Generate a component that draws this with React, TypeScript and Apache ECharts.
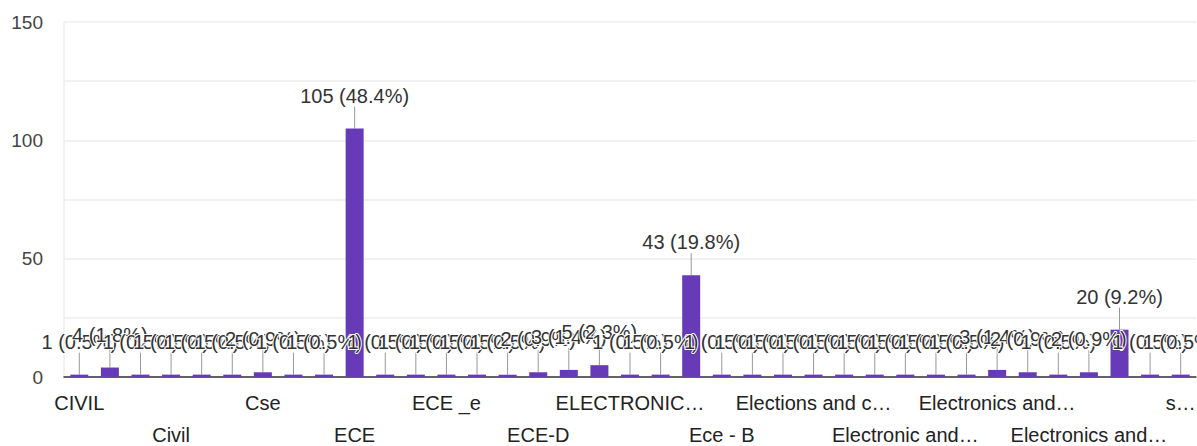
import React, { useEffect, useRef } from "react";
import * as echarts from "echarts";

const categories: string[] = [
  "CIVIL",
  "CSE",
  "Chemical",
  "Civil",
  "Civil Engineering",
  "Computer Science",
  "Cse",
  "E.C.E",
  "EC",
  "ECE",
  "ECE A",
  "ECE B",
  "ECE _e",
  "ECE c",
  "ECE-A",
  "ECE-D",
  "ECE-E",
  "ECEA",
  "ELECTRONICS AND COMMUNICATION",
  "ELECTRONICS AND COMMUNICATION ENGINEERING",
  "Ece",
  "Ece - B",
  "Ece-A",
  "Ece-C",
  "Elections and communication",
  "Electrical",
  "Electrical and electronics",
  "Electronic and communication",
  "Electronic and communication engineering",
  "Electronics",
  "Electronics and Communication",
  "Electronics and Communication Engineering",
  "Electronics and communication",
  "Electronics and communication engineering",
  "Electronics and communications",
  "Engineering",
  "student",
];

const counts: number[] = [
  1, 4, 1, 1, 1, 1, 2, 1, 1, 105,
  1, 1, 1, 1, 1, 2, 3, 5, 1, 1,
  43, 1, 1, 1, 1, 1, 1, 1, 1, 1,
  3, 2, 1, 2, 20, 1, 1,
];

const yTickLabels: number[] = [0, 50, 100, 150];

const FONT = '"Liberation Sans", Arial, sans-serif';
const LABEL_FONT = '20px "Liberation Sans", Arial, sans-serif';

let measureCtx: CanvasRenderingContext2D | null = null;
function textWidth(s: string): number {
  if (!measureCtx) {
    measureCtx = document.createElement("canvas").getContext("2d");
  }
  if (!measureCtx) return s.length * 10;
  measureCtx.font = LABEL_FONT;
  return measureCtx.measureText(s).width;
}

function fitText(text: string, width: number): string {
  if (textWidth(text) <= width) return text;
  let n = text.length;
  while (n > 0 && textWidth(text.slice(0, n) + "…") > width) n--;
  return text.slice(0, n).replace(/\s+$/, "") + "…";
}

export default function App() {
  const ref = useRef<HTMLDivElement>(null);

  useEffect(() => {
    if (!ref.current) return;
    const chart = echarts.init(ref.current, undefined, { renderer: "svg" });
    const total = counts.reduce((a, b) => a + b, 0);
    const lastIdx = categories.length - 1;

    const labelBase = {
      fontFamily: FONT,
      fontSize: 20,
      lineHeight: 32,
      color: "#222222",
      hideOverlap: false,
      formatter: (value: string, index: number) =>
        fitText(value, index === lastIdx ? 32 : 158),
    };

    chart.setOption({
      animation: false,
      backgroundColor: "#ffffff",
      grid: {
        left: 64,
        right: 1,
        top: 22,
        bottom: 69,
        containLabel: false,
        outerBoundsMode: "none",
      },
      xAxis: [
        {
          type: "category",
          data: categories,
          position: "bottom",
          axisLine: { show: true, lineStyle: { color: "#333333", width: 1.5 } },
          axisTick: { show: false },
          splitLine: { show: false },
          axisLabel: {
            ...labelBase,
            interval: (index: number) => index % 6 === 0,
            showMinLabel: true,
            showMaxLabel: true,
            margin: 10,
          },
        },
        {
          type: "category",
          data: categories,
          position: "bottom",
          offset: 0,
          axisLine: { show: false },
          axisTick: { show: false },
          splitLine: { show: false },
          axisLabel: {
            ...labelBase,
            interval: (index: number) => index % 6 === 3,
            margin: 42,
          },
        },
      ],
      yAxis: {
        type: "value",
        min: 0,
        max: 150,
        interval: 25,
        axisLine: { show: true, lineStyle: { color: "#eeeeee", width: 1.5 } },
        axisTick: { show: false },
        splitLine: { show: true, lineStyle: { color: "#eeeeee", width: 1.5 } },
        axisLabel: {
          margin: 21,
          fontFamily: FONT,
          fontSize: 19,
          color: "#444444",
          showMinLabel: true,
          showMaxLabel: true,
          formatter: (v: number) =>
            yTickLabels.indexOf(v) >= 0 ? String(v) : "",
        },
      },
      series: [
        {
          type: "bar",
          xAxisIndex: 0,
          data: counts,
          barWidth: 18,
          itemStyle: { color: "#673ab7" },
          label: {
            show: true,
            position: "top",
            distance: 5,
            fontFamily: FONT,
            fontSize: 20,
            color: "#333333",
            textBorderColor: "#ffffff",
            textBorderWidth: 2,
            formatter: (p: any) =>
              `${p.value} (${((p.value / total) * 100).toFixed(1)}%)`,
          },
          labelLayout: { dy: -18 },
          labelLine: {
            show: true,
            lineStyle: { color: "#999999", width: 1 },
          },
        },
      ],
    });

    return () => chart.dispose();
  }, []);

  return (
    <div
      ref={ref}
      style={{ position: "absolute", left: 0, top: 0, width: 1197, height: 446 }}
    />
  );
}
